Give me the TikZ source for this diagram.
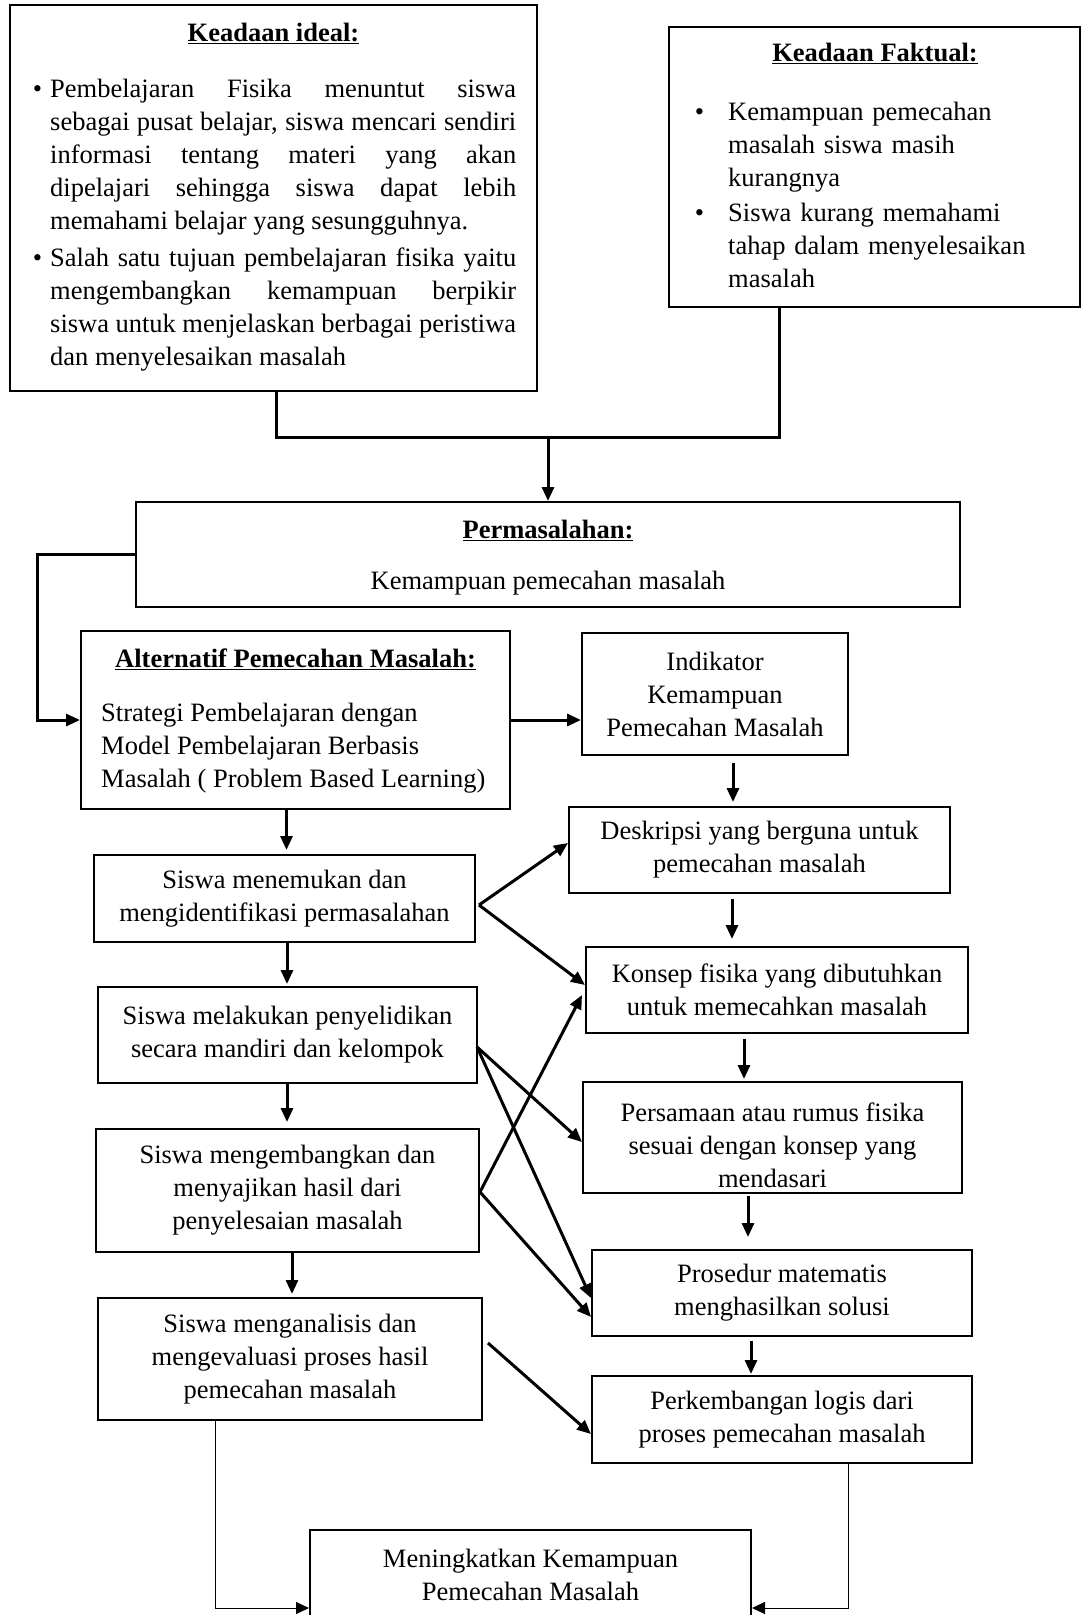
\documentclass[tikz,border=0pt]{standalone}
\usepackage{fontspec}
\setmainfont{Liberation Serif}
\usetikzlibrary{arrows.meta,calc}
\tolerance=9999
\hyphenpenalty=10000

\begin{document}
\begin{tikzpicture}[x=1pt,y=-1pt,
	every node/.style={font=\fontsize{26.5}{33}\selectfont},
	box/.style={draw,line width=2pt,inner sep=0pt,align=center},
	txt/.style={inner sep=0pt,anchor=north west},
	conn/.style={line width=3pt},
	arr/.style={line width=3pt,-{Triangle[length=14pt,width=12pt]}},
	thinarr/.style={line width=1pt,-{Triangle[length=13pt,width=12pt]}}]
	\useasboundingbox(0,0)rectangle(1083,1615);
	\node[box,minimum width=527pt,minimum height=386pt](ideal)at(273.5,198){};
	\node(idealhead)at(273.5,33){\underline{\textbf{Keadaan ideal:}}};
	\node[txt,text width=466pt,align=justify](idealtxt)at(50,79){\leavevmode\llap{\textbullet\hspace{8pt}}Pembelajaran Fisika menuntut siswa\linebreak sebagai pusat belajar, siswa mencari sendiri\linebreak informasi tentang materi yang akan\linebreak dipelajari sehingga siswa dapat lebih\linebreak memahami belajar yang sesungguhnya.\par\vspace{4pt}
	\leavevmode\llap{\textbullet\hspace{8pt}}Salah satu tujuan pembelajaran fisika yaitu\linebreak mengembangkan kemampuan berpikir\linebreak siswa untuk menjelaskan berbagai peristiwa\linebreak dan menyelesaikan masalah};
	\node[box,minimum width=411pt,minimum height=280pt](faktual)at(874.5,167){};
	\node(faktualhead)at(875,53){\underline{\textbf{Keadaan Faktual:}}};
	\node[txt,text width=340pt,align=left](faktualtxt)at(728,102){\leavevmode\llap{\textbullet\hspace{24pt}}Kemampuan pemecahan\\masalah siswa masih\\kurangnya\par\vspace{2pt}
	\leavevmode\llap{\textbullet\hspace{24pt}}Siswa kurang memahami\\tahap dalam menyelesaikan\\masalah};
	\node[box,minimum width=824pt,minimum height=105pt](perm)at(548,554.5){};
	\node(permhead)at(548,530){\underline{\textbf{Permasalahan:}}};
	\node(permtxt)at(548,583){Kemampuan pemecahan masalah};
	\node[box,minimum width=429pt,minimum height=178pt](alt)at(295.5,720){};
	\node(althead)at(295.5,659){\underline{\textbf{Alternatif Pemecahan Masalah:}}};
	\node[txt,align=left](alttxt)at(101,703){Strategi Pembelajaran dengan\\Model Pembelajaran Berbasis\\Masalah ( Problem Based Learning)};
	\node[box,minimum width=266pt,minimum height=122pt](indik)at(715,694){Indikator\\Kemampuan\\Pemecahan Masalah};
	\node[box,minimum width=381pt,minimum height=86pt](desk)at(759.5,850){Deskripsi yang berguna untuk\\pemecahan masalah};
	\node[box,minimum width=382pt,minimum height=86pt](konsep)at(777,990){Konsep fisika yang dibutuhkan\\untuk memecahkan masalah};
	\node[box,minimum width=379pt,minimum height=111pt](persam)at(772.5,1137.5){};
	\node[align=center](persamtxt)at(772.5,1145){Persamaan atau rumus fisika\\sesuai dengan konsep yang\\mendasari};
	\node[box,minimum width=380pt,minimum height=86pt](prosedur)at(782,1293){Prosedur matematis\\menghasilkan solusi};
	\node[box,minimum width=380pt,minimum height=87pt](perk)at(782,1419.5){Perkembangan logis dari\\proses pemecahan masalah};
	\node[box,minimum width=441pt,minimum height=90pt](mening)at(530.5,1575){Meningkatkan Kemampuan\\Pemecahan Masalah};
	\node[box,minimum width=381pt,minimum height=87pt](s1)at(284.5,898.5){Siswa menemukan dan\\mengidentifikasi permasalahan};
	\node[box,minimum width=379pt,minimum height=96pt](s2)at(287.5,1035){Siswa melakukan penyelidikan\\secara mandiri dan kelompok};
	\node[box,minimum width=383pt,minimum height=123pt](s3)at(287.5,1190.5){Siswa mengembangkan dan\\menyajikan hasil dari\\penyelesaian masalah};
	\node[box,minimum width=384pt,minimum height=122pt](s4)at(290,1359){Siswa menganalisis dan\\mengevaluasi proses hasil\\pemecahan masalah};
	\coordinate(join)at(548,437);
	\draw[conn]($(ideal.south)+(2.5,0)$)|-(join);
	\draw[conn]($(faktual.south)+(-95,0)$)|-(join);
	\draw[arr](join)--(perm.north);
	\draw[arr](perm.west)--++(-98,0)|-(alt.west);
	\draw[arr](alt.east)--(alt.east-|indik.west);
	\draw[arr]($(alt.south)+(-9,0)$)--($(s1.north)+(2,-4)$);
	\draw[arr]($(s1.south)+(2.5,0)$)--($(s2.north)+(-0.5,-2)$);
	\draw[arr]($(s2.south)+(-0.5,0)$)--($(s3.north)+(-0.5,-6)$);
	\draw[arr]($(s3.south)+(4.5,0)$)--($(s4.north)+(2,-3)$);
	\draw[arr]($(indik.south)+(18,7)$)--($(desk.north)+(-26.5,-4)$);
	\draw[arr]($(desk.south)+(-27.5,5)$)--($(konsep.north)+(-45,-7)$);
	\draw[arr]($(konsep.south)+(-33,5)$)--($(persam.north)+(-28.5,-2)$);
	\draw[arr]($(persam.south)+(-24.5,2)$)--($(prosedur.north)+(-34,-12)$);
	\draw[arr]($(prosedur.south)+(-31,4)$)--($(perk.north)+(-31,-1)$);
	\coordinate(o1)at($(s1.east)+(3,6.5)$);
	\coordinate(o2)at($(s2.east)+(-1,12)$);
	\coordinate(o3)at($(s3.east)+(0,1.5)$);
	\coordinate(o4)at($(s4.east)+(5,-16)$);
	\draw[arr](o1)--($(desk.west)+(0,-7)$);
	\draw[arr](o1)--($(konsep.west)+(0,-5)$);
	\draw[arr](o2)--($(persam.west)+(0,4.5)$);
	\draw[arr](o2)--($(prosedur.west)+(0,5)$);
	\draw[arr](o3)--($(konsep.west)+(-3,5)$);
	\draw[arr](o3)--($(prosedur.west)+(0,24)$);
	\draw[arr](o4)--($(perk.west)+(0,14.5)$);
	\draw[thinarr]($(s4.south)+(-75,0)$)|-($(mening.south west)+(0,-13)$);
	\draw[thinarr]($(perk.south)+(66,0)$)|-($(mening.south east)+(0,-13)$);
\end{tikzpicture}
\end{document}
